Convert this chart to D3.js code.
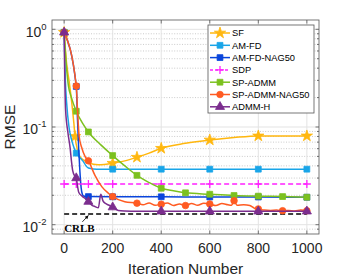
<!DOCTYPE html>
<html>
<head>
<meta charset="utf-8">
<script src="https://cdn.jsdelivr.net/npm/d3@7"></script>
<style>
  body { margin: 0; background: #fff; }
  svg { display: block; font-family: "Liberation Sans", Arial, Helvetica, sans-serif; }
</style>
</head>
<body>
<svg id="chart" width="353" height="277"></svg>
<script>
// RMSE vs iteration number, log scale

// ---- data ----
var sfIter = [0, 10, 20, 30, 40, 45, 55, 65, 80, 100, 140, 200, 250, 300, 350, 400, 500, 600, 700, 800, 900, 1000];
var sfVal  = [0.93, 0.45, 0.30, 0.19, 0.11, 0.08, 0.058, 0.050, 0.046, 0.043, 0.041, 0.0425, 0.045, 0.049, 0.054, 0.0605, 0.068, 0.0736, 0.078, 0.081, 0.081, 0.081];
var sfMarks = [0, 45, 200, 300, 400, 600, 800, 1000];

var amfdIter = [0, 5, 10, 20, 30, 40, 50, 60, 70, 80, 90, 100, 120, 150, 200, 400, 600, 800, 1000];
var amfdVal  = [0.93, 0.30, 0.18, 0.10, 0.075, 0.062, 0.054, 0.050, 0.047, 0.044, 0.040, 0.038, 0.0372, 0.037, 0.037, 0.037, 0.037, 0.037, 0.037];
var amfdMarks = [0, 50, 200, 400, 600, 800, 1000];

var nagIter = [0, 50, 55, 60, 65, 70, 75, 80, 100, 200, 400, 600, 800, 1000];
var nagVal  = [0.93, 0.26, 0.12, 0.06, 0.035, 0.024, 0.0205, 0.0197, 0.0194, 0.0193, 0.0193, 0.0192, 0.0192, 0.0191];
var nagMarks = [0, 50, 100, 200, 400, 600, 800, 1000];

var sdpIter = [0, 50, 100, 200, 400, 600, 800, 1000];
var sdpVal  = [0.0261, 0.0261, 0.0261, 0.0261, 0.0261, 0.0261, 0.0261, 0.0261];
var sdpMarks = [0, 50, 100, 200, 400, 600, 800, 1000];

var spIter = [0, 10, 18, 30, 50, 75, 100, 150, 200, 250, 300, 350, 400, 450, 500, 600, 700, 800, 900, 1000];
var spVal  = [0.93, 0.40, 0.26, 0.20, 0.145, 0.11, 0.089, 0.066, 0.051, 0.040, 0.032, 0.027, 0.0236, 0.0222, 0.0212, 0.0205, 0.0199, 0.0196, 0.0194, 0.0191];
var spMarks = [0, 50, 100, 200, 300, 400, 500, 600, 700, 800, 900, 1000];

var spnIter = [0, 50, 55, 62, 72, 86, 100, 127, 155, 182, 200, 250, 300, 325, 350, 375, 400, 425, 450, 475, 500, 525, 550, 575, 600, 625, 650, 675, 690, 700, 712, 740, 765, 785, 800, 825, 850, 875, 900, 925, 950, 975, 1000];
var spnVal  = [0.93, 0.263, 0.15, 0.08, 0.062, 0.050, 0.045, 0.032, 0.0245, 0.021, 0.0194, 0.0172, 0.0166, 0.0160, 0.0167, 0.0158, 0.0162, 0.0167, 0.0157, 0.0163, 0.0157, 0.0165, 0.0158, 0.0166, 0.0163, 0.0157, 0.0165, 0.0160, 0.0158, 0.0176, 0.0158, 0.0160, 0.0157, 0.0147, 0.0145, 0.0141, 0.0140, 0.0141, 0.0139, 0.0140, 0.0138, 0.0141, 0.0139];
var spnMarks = [0, 50, 100, 200, 300, 400, 500, 600, 700, 800, 900, 1000];

var admmIter = [0, 3, 6, 15, 25, 30, 35, 45, 50, 55, 60, 75, 93, 100, 115, 128, 141, 151, 160, 169, 185, 200, 223, 250, 300, 400, 600, 800, 1000];
var admmVal  = [0.93, 0.30, 0.15, 0.09, 0.06, 0.045, 0.036, 0.031, 0.030, 0.025, 0.0215, 0.0195, 0.018, 0.0172, 0.0158, 0.0153, 0.0149, 0.0205, 0.0175, 0.0166, 0.0158, 0.0151, 0.0140, 0.0138, 0.0137, 0.0137, 0.0137, 0.0137, 0.0137];
var admmMarks = [0, 50, 100, 200, 400, 600, 800, 1000];

var crlbVal = 0.0129;
var crlbIter = [0, 1000];

var xTicks = [0, 200, 400, 600, 800, 1000];
var yTicks = [0.01, 0.1, 1];
var yTickExp = ["-2", "-1", "0"];

// ---- series table ----
var series = [
  {name: "SF",            iter: sfIter,   val: sfVal,   marks: sfMarks,   color: "#ffb70f", sym: "star"},
  {name: "AM-FD",         iter: amfdIter, val: amfdVal, marks: amfdMarks, color: "#19a5e8", sym: "square"},
  {name: "AM-FD-NAG50",   iter: nagIter,  val: nagVal,  marks: nagMarks,  color: "#0a45dc", sym: "square"},
  {name: "SDP",           iter: sdpIter,  val: sdpVal,  marks: sdpMarks,  color: "#ff22ff", sym: "plus", dash: "5,3"},
  {name: "SP-ADMM",       iter: spIter,   val: spVal,   marks: spMarks,   color: "#7cc11f", sym: "square"},
  {name: "SP-ADMM-NAG50", iter: spnIter,  val: spnVal,  marks: spnMarks,  color: "#ff5b22", sym: "circle"},
  {name: "ADMM-H",        iter: admmIter, val: admmVal, marks: admmMarks, color: "#7b2d8e", sym: "triangle"}
];

var svg = d3.select("#chart");
var pLeft = 52, pRight = 319, pTop = 20, pBottom = 234;

var xScale = d3.scaleLinear().domain([-50, 1050]).range([pLeft, pRight]);
var yScale = d3.scaleLog().domain([0.00803, 1.245]).range([pBottom, pTop]);

// minor y ticks
var minorY = [];
[0.001, 0.01, 0.1].forEach(function(d) {
  for (var k = 2; k <= 9; k++) {
    var v = d * k;
    if (v >= 0.00803 && v <= 1.245) minorY.push(v);
  }
});

// ---- grid ----
var grid = svg.append("g");
grid.selectAll(".gminor").data(minorY).enter().append("line")
  .attr("x1", pLeft).attr("x2", pRight)
  .attr("y1", function(d) { return yScale(d); }).attr("y2", function(d) { return yScale(d); })
  .attr("stroke", "#b4b4b4").attr("stroke-width", 0.7).attr("stroke-dasharray", "1,1.6");
grid.selectAll(".gy").data(yTicks).enter().append("line")
  .attr("x1", pLeft).attr("x2", pRight)
  .attr("y1", function(d) { return yScale(d); }).attr("y2", function(d) { return yScale(d); })
  .attr("stroke", "#e3e3e3").attr("stroke-width", 1);
grid.selectAll(".gx").data(xTicks).enter().append("line")
  .attr("y1", pTop).attr("y2", pBottom)
  .attr("x1", function(d) { return xScale(d); }).attr("x2", function(d) { return xScale(d); })
  .attr("stroke", "#e3e3e3").attr("stroke-width", 1);

// ---- lines ----
svg.append("clipPath").attr("id", "clip").append("rect")
  .attr("x", pLeft).attr("y", pTop).attr("width", pRight - pLeft).attr("height", pBottom - pTop);

var plot = svg.append("g").attr("clip-path", "url(#clip)");

var line = d3.line()
  .x(function(d) { return xScale(d[0]); })
  .y(function(d) { return yScale(d[1]); })
  .curve(d3.curveMonotoneX);

// CRLB
plot.append("path")
  .datum(crlbIter.map(function(i) { return [i, crlbVal]; }))
  .attr("d", line)
  .attr("fill", "none").attr("stroke", "#000").attr("stroke-width", 1.5)
  .attr("stroke-dasharray", "5,3");

function symbolPath(sym) {
  if (sym === "star") return d3.symbol().type(d3.symbolStar).size(40)();
  if (sym === "square") return d3.symbol().type(d3.symbolSquare).size(34)();
  if (sym === "circle") return d3.symbol().type(d3.symbolCircle).size(34)();
  if (sym === "triangle") return d3.symbol().type(d3.symbolTriangle).size(36)();
  return "M-4,0H4M0,-4V4";
}

function drawMarker(g, s, x, y) {
  var p = g.append("path").attr("d", symbolPath(s.sym))
    .attr("transform", "translate(" + x + "," + y + ")");
  if (s.sym === "plus") {
    p.attr("fill", "none").attr("stroke", s.color).attr("stroke-width", 1.3);
  } else {
    p.attr("fill", s.color).attr("stroke", s.color).attr("stroke-width", 0.8);
  }
}

series.forEach(function(s) {
  var pts = s.iter.map(function(it, i) { return [it, s.val[i]]; });
  plot.append("path").datum(pts)
    .attr("d", line)
    .attr("fill", "none").attr("stroke", s.color).attr("stroke-width", 1.5)
    .attr("stroke-dasharray", s.dash || null);
  var mg = plot.append("g");
  pts.filter(function(p) { return s.marks.indexOf(p[0]) >= 0; }).forEach(function(p) {
    drawMarker(mg, s, xScale(p[0]), yScale(p[1]));
  });
});

// ---- axes box and ticks ----
var axisColor = "#555";
svg.append("rect").attr("x", pLeft).attr("y", pTop)
  .attr("width", pRight - pLeft).attr("height", pBottom - pTop)
  .attr("fill", "none").attr("stroke", axisColor).attr("stroke-width", 0.8);

var ticks = svg.append("g").attr("stroke", axisColor).attr("stroke-width", 0.8);
xTicks.forEach(function(d) {
  var x = xScale(d);
  ticks.append("line").attr("x1", x).attr("x2", x).attr("y1", pBottom).attr("y2", pBottom - 3.5);
  ticks.append("line").attr("x1", x).attr("x2", x).attr("y1", pTop).attr("y2", pTop + 3.5);
});
yTicks.forEach(function(d) {
  var y = yScale(d);
  ticks.append("line").attr("x1", pLeft).attr("x2", pLeft + 3.5).attr("y1", y).attr("y2", y);
  ticks.append("line").attr("x1", pRight).attr("x2", pRight - 3.5).attr("y1", y).attr("y2", y);
});
minorY.forEach(function(d) {
  var y = yScale(d);
  ticks.append("line").attr("x1", pLeft).attr("x2", pLeft + 2).attr("y1", y).attr("y2", y);
  ticks.append("line").attr("x1", pRight).attr("x2", pRight - 2).attr("y1", y).attr("y2", y);
});

// tick labels
svg.selectAll(".xl").data(xTicks).enter().append("text")
  .attr("x", function(d) { return xScale(d); })
  .attr("y", 252.5)
  .attr("text-anchor", "middle")
  .attr("font-size", 14).attr("fill", "#262626")
  .text(function(d) { return d; });

yTicks.forEach(function(d, i) {
  var t = svg.append("text")
    .attr("x", 46.5).attr("y", yScale(d) + 7.5)
    .attr("text-anchor", "end")
    .attr("font-size", 14).attr("fill", "#262626");
  t.append("tspan").text("10");
  t.append("tspan").attr("dy", -7).attr("font-size", 9.5).text(yTickExp[i]);
});

// axis labels
svg.append("text")
  .attr("x", (pLeft + pRight) / 2).attr("y", 273.5)
  .attr("text-anchor", "middle").attr("font-size", 15.5).attr("fill", "#262626")
  .text("Iteration Number");
svg.append("text")
  .attr("transform", "translate(15," + ((pTop + pBottom) / 2) + ") rotate(-90)")
  .attr("text-anchor", "middle").attr("font-size", 15.5).attr("fill", "#262626")
  .text("RMSE");

// CRLB annotation
var cy = yScale(crlbVal);
svg.append("text")
  .attr("x", xScale(0)).attr("y", cy + 18)
  .attr("font-family", "'Liberation Serif', 'DejaVu Serif', serif")
  .attr("font-weight", "bold").attr("font-size", 11).attr("fill", "#000")
  .text("CRLB");
var ax1 = xScale(75), ay1 = cy + 8, ax2 = xScale(100), ay2 = cy + 1.5;
svg.append("line").attr("x1", ax1).attr("y1", ay1).attr("x2", ax2).attr("y2", ay2)
  .attr("stroke", "#000").attr("stroke-width", 0.8);
var ang = Math.atan2(ay2 - ay1, ax2 - ax1);
var hl = 3.5, hw = 1.8;
svg.append("path")
  .attr("d", "M" + ax2 + "," + ay2 +
    "L" + (ax2 - hl * Math.cos(ang) + hw * Math.sin(ang)) + "," + (ay2 - hl * Math.sin(ang) - hw * Math.cos(ang)) +
    "L" + (ax2 - hl * Math.cos(ang) - hw * Math.sin(ang)) + "," + (ay2 - hl * Math.sin(ang) + hw * Math.cos(ang)) + "Z")
  .attr("fill", "#000");

// ---- legend ----
var lg = svg.append("g");
lg.append("rect").attr("x", 208).attr("y", 25).attr("width", 106).attr("height", 88)
  .attr("fill", "#fff").attr("stroke", axisColor).attr("stroke-width", 0.8);
series.forEach(function(s, i) {
  var y = 33 + i * 12.3;
  lg.append("line").attr("x1", 210).attr("x2", 230).attr("y1", y).attr("y2", y)
    .attr("stroke", s.color).attr("stroke-width", 1.5)
    .attr("stroke-dasharray", s.dash ? "3,2" : null);
  drawMarker(lg, s, 220, y);
  lg.append("text").attr("x", 232).attr("y", y + 3.4)
    .attr("font-size", 9.3).attr("fill", "#000")
    .text(s.name);
});
</script>
</body>
</html>
